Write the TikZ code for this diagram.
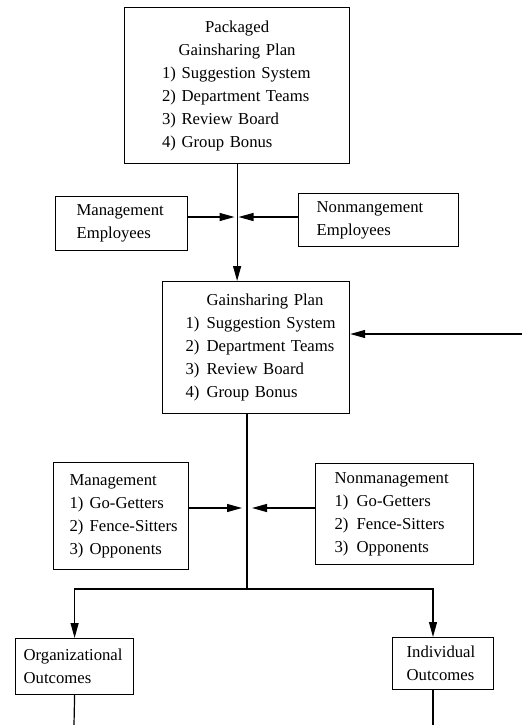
\documentclass[tikz,border=0pt]{standalone}
\usepackage{fontspec}
\setmainfont{Liberation Serif}
\usepackage{tikz}
\usetikzlibrary{arrows.meta}
\newcommand\lline[1]{\makebox[\linewidth][l]{#1}}
\newcommand\numb[2]{\makebox[#1][l]{#2}}
\tikzset{
  box/.style={draw, line width=1.2pt, anchor=north west, inner sep=0pt, align=center,
    font=\fontsize{16.7}{23}\selectfont},
  arr/.style={line width=1.2pt, -{Triangle[length=15pt,width=8pt]}},
  wire/.style={line width=1.2pt},
}
\begin{document}
\begin{tikzpicture}[x=1pt,y=-1pt]
  \useasboundingbox (0,0) rectangle (522,725);
  \node[box, minimum width=225pt, minimum height=156pt, text width=150pt] (pkg) at (124,7)
    {Packaged\\ Gainsharing Plan\\ \lline{1) Suggestion System}\\ \lline{2) Department Teams}\\
     \lline{3) Review Board}\\ \lline{4) Group Bonus}};
  \node[box, minimum width=132pt, minimum height=54pt, text width=90pt] (memp) at (55,196)
    {\lline{Management}\\ \lline{Employees}};
  \node[box, minimum width=160pt, minimum height=53pt, text width=124pt] (nemp) at (298,193)
    {\lline{Nonmangement}\\ \lline{Employees}};
  \node[box, minimum width=187pt, minimum height=132pt, text width=141pt] (gsp) at (162,281)
    {\lline{\hspace{21pt}Gainsharing Plan}\\ \lline{\numb{21pt}{1)}Suggestion System}\\
     \lline{\numb{21pt}{2)}Department Teams}\\ \lline{\numb{21pt}{3)}Review Board}\\
     \lline{\numb{21pt}{4)}Group Bonus}};
  \node[box, minimum width=135pt, minimum height=107pt, text width=103pt] (mgt) at (53,462)
    {\lline{Management}\\ \lline{\numb{20pt}{1)}Go-Getters}\\
     \lline{\numb{20pt}{2)}Fence-Sitters}\\ \lline{\numb{20pt}{3)}Opponents}};
  \node[box, minimum width=158pt, minimum height=101pt, text width=120pt] (nmgt) at (315,463)
    {\lline{Nonmanagement}\\ \lline{\numb{22pt}{1)}Go-Getters}\\
     \lline{\numb{22pt}{2)}Fence-Sitters}\\ \lline{\numb{22pt}{3)}Opponents}};
  \node[box, minimum width=118pt, minimum height=56pt, text width=102pt] (org) at (15,638)
    {\lline{Organizational}\\ \lline{Outcomes}};
  \node[box, minimum width=101pt, minimum height=52pt, text width=73pt] (ind) at (392,637)
    {\lline{Individual}\\ \lline{Outcomes}};
  \coordinate (mix1) at (236.5,217);
  \coordinate (mix2) at (247,508);
  \coordinate (split) at (247,589);
  \coordinate (inr) at (522,334);
  \coordinate (outl) at (74,725);
  \coordinate (outr) at (433,725);
  \draw[arr] (pkg.south) -- (pkg.south |- gsp.north);
  \draw[arr, shorten >=2pt] (memp.east |- mix1) -- (mix1);
  \draw[arr, shorten >=2pt] (nemp.west |- mix1) -- (mix1);
  \draw[arr] (inr) -- (inr -| gsp.east);
  \draw[wire] (mix2 |- gsp.south) -- (split);
  \draw[arr, shorten >=5pt] (mgt.east |- mix2) -- (mix2);
  \draw[arr, shorten >=5pt] (nmgt.west |- mix2) -- (mix2);
  \draw[arr] (split) -| (org.north);
  \draw[arr] (split) -| (outr |- ind.north);
  \draw[wire] (org.south) -- (outl);
  \draw[wire] (outr |- ind.south) -- (outr);
\end{tikzpicture}
\end{document}
